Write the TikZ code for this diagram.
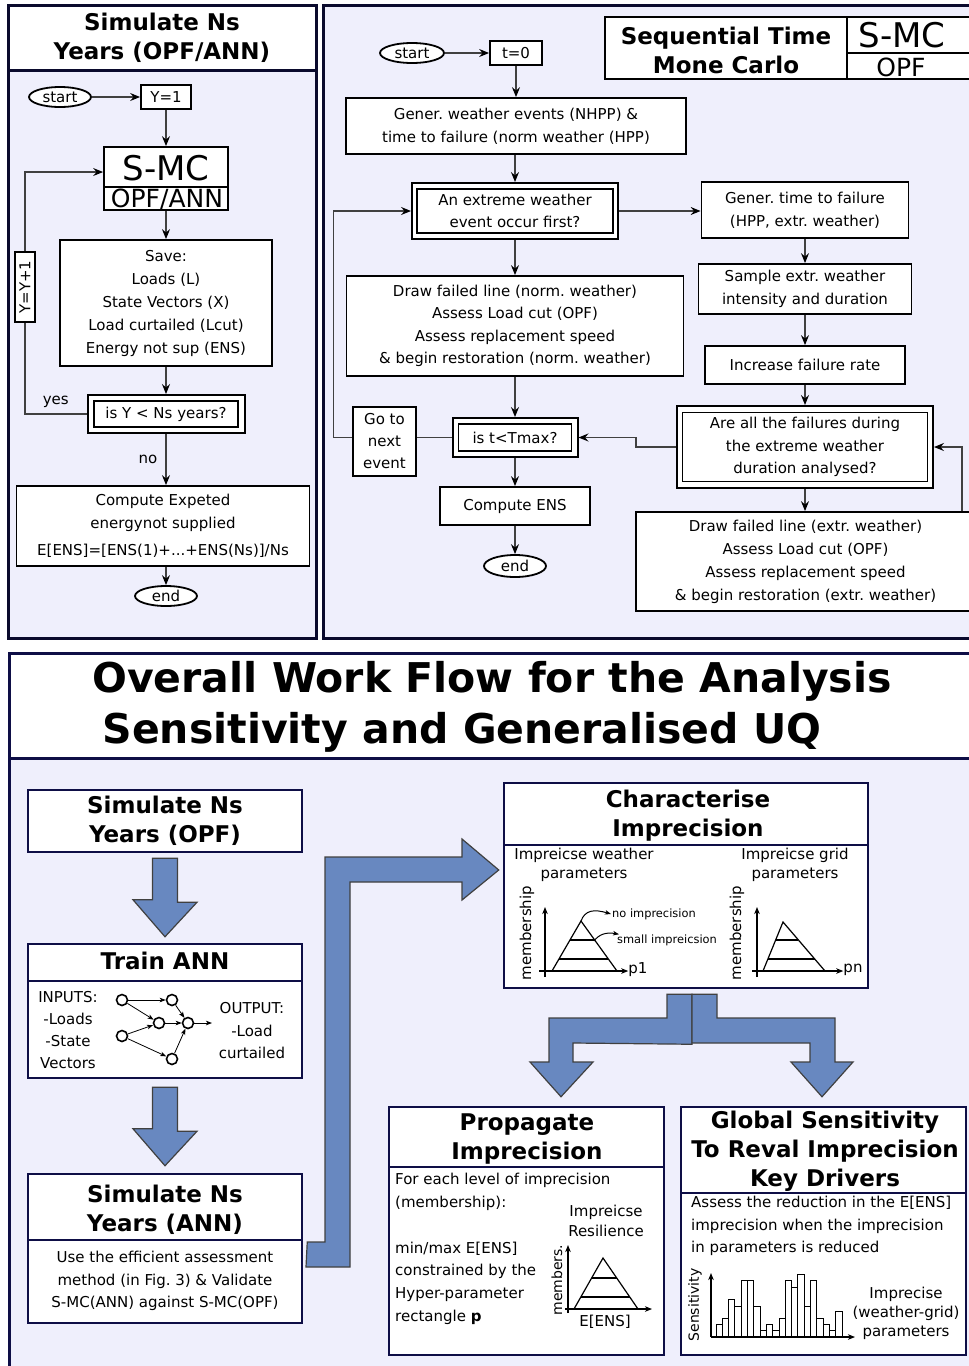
\documentclass[tikz,border=0pt]{standalone}
\usepackage{fontspec}
\setmainfont{DejaVu Sans}
\usetikzlibrary{arrows.meta,shapes.geometric,calc}
\frenchspacing

\definecolor{panelbg}{RGB}{239,239,252}
\definecolor{panelline}{RGB}{10,10,45}
\definecolor{navy}{RGB}{14,14,70}
\definecolor{flowblue}{RGB}{104,136,192}
\definecolor{wire}{RGB}{64,64,64}

\newcommand{\fsz}[2]{\fontsize{#1}{#2}\selectfont}

\tikzset{
  panel/.style={draw=panelline, line width=3pt},
  box/.style={draw=black, line width=1.8pt, fill=white, inner sep=0pt,
              align=center, font=\fsz{15}{23}},
  inbox/.style={draw=black, line width=1.8pt, inner sep=0pt, align=center,
              font=\fsz{15}{22.5}},
  oval/.style={ellipse, draw=black, line width=1.8pt, fill=white, inner sep=0pt,
              font=\fsz{15}{18}},
  wh/.style 2 args={minimum width=#1, minimum height=#2},
  arrowtip/.style={-{Stealth[length=10pt,width=8pt,inset=3.5pt,color=black]}},
  conn/.style={draw=wire, line width=1.2pt, arrowtip},
  wireline/.style={draw=wire, line width=1.2pt},
  txt/.style={inner sep=0pt, align=center, font=\fsz{15}{23}},
  ttl/.style={inner sep=0pt, align=center, font=\bfseries\fsz{23}{29}},
  nbox/.style={draw=navy, line width=2.5pt, fill=white, inner sep=0pt},
  fat/.style={fill=flowblue, draw=wire, line width=1.2pt, line join=miter},
  ax/.style={draw=black, line width=1.2pt, -{Stealth[length=7pt,width=5.5pt,inset=2pt]}},
  tri/.style={draw=black, line width=1.2pt, line join=miter},
  neuron/.style={circle, draw=black, line width=1.6pt, fill=white, minimum size=11pt, inner sep=0pt},
  syn/.style={draw=black, line width=0.8pt, -{Stealth[length=6pt,width=4.5pt,inset=1.5pt]}},
  smalltxt/.style={inner sep=1pt, font=\fsz{11.4}{13}},
  vlabel/.style={inner sep=0pt, rotate=90, font=\fsz{15}{15}},
}

\begin{document}
\begin{tikzpicture}[x=1pt,y=-1pt]
\useasboundingbox (0,0) rectangle (969,1366);
\clip (0,0) rectangle (969,1366);
\fill[white] (0,0) rectangle (969,1366);

% ================= left panel: simulation over Ns years
\fill[panelbg] (8,70) rectangle (316,638);
\fill[white] (8,5) rectangle (316,70);
\draw[panel] (8,5) rectangle (316,638) (8,70) -- (316,70);
\node[ttl] at (162,38) {Simulate Ns\\Years (OPF/ANN)};

\node[oval, wh={62}{20}] (lstart) at (60,97) {start};
\node[box, wh={50}{24}] (ly1) at (166,97) {Y=1};
\node[box, wh={124}{63}] (lsmc) at (166,178.5) {};
\draw[line width=1.8pt] ($(lsmc.west)+(0,8.5)$) -- ($(lsmc.east)+(0,8.5)$);
\node[inner sep=0pt, font=\fsz{34}{34}] at (166,168) {S-MC};
\node[inner sep=0pt, font=\fsz{25}{25}] at (167,199.5) {OPF/ANN};
\coordinate (lsmcw) at ($(lsmc.north west)!0.4!(lsmc.south west)$);

\node[box, wh={212}{126}] (lsave) at (166,303)
  {Save:\\Loads (L)\\State Vectors (X)\\Load curtailed (Lcut)\\Energy not sup (ENS)};
\node[box, line width=2pt, wh={157}{38}] (ldec) at (166,414) {};
\node[inbox, wh={144}{26}] at (ldec) {is Y < Ns years?};
\node[box, rotate=90, wh={70}{20}] (lyy) at (25,287) {Y=Y+1};
\node[box, wh={293}{80}] (lcomp) at (163,526)
  {Compute Expeted\\energynot supplied\\[4pt]E[ENS]=[ENS(1)+...+ENS(Ns)]/Ns};
\node[oval, wh={62}{20}] (lend) at (166,596) {end};

\draw[conn] (lstart) -- (ly1);
\draw[conn] (ly1) -- (ly1 |- lsmc.north);
\draw[conn] (lsmc) -- (lsave);
\draw[conn] (lsave) -- (ldec);
\draw[conn] (ldec.south) -- node[midway, left=8pt, inner sep=0pt, font=\fsz{15}{18}] {no} (ldec.south |- lcomp.north);
\draw[conn] (lcomp.south -| lend) -- (lend);
\draw[wireline] (ldec.west) -- node[midway, above=6pt, inner sep=0pt, font=\fsz{15}{18}] {yes} (ldec.west -| lyy) -- (lyy.west);
\draw[conn] (lyy.east) |- (lsmcw);

% ================= right panel: sequential time Monte Carlo
\fill[panelbg] (323,5) rectangle (990,638);
\draw[panel] (323,5) rectangle (990,638);
\node[box, line width=2.5pt, wh={375}{62}] (rhead) at (792.5,48) {};
\draw[line width=2.5pt] (847,17) -- (847,79) (847,53) -- (990,53);
\node[ttl] at (726,50) {Sequential Time\\Mone Carlo};
\node[inner sep=0pt, font=\fsz{34}{34}] at (902,35) {S-MC};
\node[inner sep=0pt, font=\fsz{25}{25}] at (901,67) {OPF};

\node[oval, wh={64}{20}] (rstart) at (412,53) {start};
\node[box, wh={52}{24}] (rt0) at (516,53) {t=0};
\node[box, wh={340}{56}] (rgen) at (516,126)
  {Gener. weather events (NHPP) \&\\time to failure (norm weather (HPP)};
\node[box, line width=2pt, wh={206}{56}] (rq1) at (515,211) {};
\node[inbox, wh={196}{44}] at (rq1) {An extreme weather\\event occur first?};
\node[box, wh={207}{56}] (rgtf) at (805,210) {Gener. time to failure\\(HPP, extr. weather)};
\node[box, wh={337}{100}, font=\fsz{15}{22.5}] (rdn) at (515,326)
  {Draw failed line (norm. weather)\\Assess Load cut (OPF)\\Assess replacement speed\\\& begin restoration (norm. weather)};
\node[box, wh={213}{50}] (rsample) at (805,289) {Sample extr. weather\\intensity and duration};
\node[box, wh={200}{38}] (rinc) at (805,365) {Increase failure rate};
\node[box, line width=2pt, wh={256}{82}] (rq2) at (805,447) {};
\node[inbox, wh={245}{69}] at (rq2) {Are all the failures during\\the extreme weather\\duration analysed?};
\node[box, line width=2pt, wh={125}{39}] (rtmax) at (515,437.5) {};
\node[inbox, wh={113}{27}] at (rtmax) {is t<Tmax?};
\node[box, wh={63}{69}, font=\fsz{15}{22}] (rgo) at (384.5,441.5) {Go to\\next\\event};
\node[box, wh={150}{38}] (rens) at (515,506) {Compute ENS};
\node[oval, wh={62}{22}] (rend) at (515,566) {end};
\node[box, wh={339}{99}] (rde) at (805.5,561.5)
  {Draw failed line (extr. weather)\\Assess Load cut (OPF)\\Assess replacement speed\\\& begin restoration (extr. weather)};

\draw[conn] (rstart) -- (rt0);
\draw[conn] (rt0) -- (rt0 |- rgen.north);
\draw[conn] (rgen.south -| rq1) -- (rq1);
\draw[conn] (rq1) -- (rgtf.west |- rq1);
\draw[conn] (rq1) -- (rq1 |- rdn.north);
\draw[conn] (rdn.south -| rtmax) -- (rtmax);
\draw[conn] (rtmax) -- (rens);
\draw[conn] (rens) -- (rend);
\draw[conn] (rgtf) -- (rsample);
\draw[conn] (rsample) -- (rinc);
\draw[conn] (rinc) -- (rq2);
\draw[conn] (rq2) -- (rq2 |- rde.north);
\draw[conn] (rq2.west) -- ++(-40,0) |- (rtmax.east);
\draw[wireline] (rtmax.west) -- (rgo.east |- rtmax.west);
\draw[conn] (rgo.west |- rtmax.west) -- ++(-18.5,0) |- (rq1.west);
\coordinate (rloop) at ($(rde.north east)+(-14,0)$);
\draw[conn] (rloop) |- (rq2.east);

% ================= bottom panel: overall work flow
\fill[panelbg] (9,758) rectangle (990,1380);
\fill[white] (9,653) rectangle (990,758);
\draw[panel, draw=navy] (9,653) rectangle (990,1380) (9,758) -- (990,758);
\node[inner sep=0pt, font=\bfseries\fsz{41}{41}] at (492,681) {Overall Work Flow for the Analysis};
\node[inner sep=0pt, font=\bfseries\fsz{41}{41}] at (462,732) {Sensitivity and Generalised UQ};

% --- simulate with OPF
\node[nbox, ttl, wh={274}{62}] (bopf) at (165,821) {Simulate Ns\\Years (OPF)};

% --- train the network
\node[nbox, wh={274}{134}] (bann) at (165,1011) {};
\draw[navy, line width=2.5pt] (28,981) -- (302,981);
\node[ttl] at (165,961) {Train ANN};
\node[txt, font=\fsz{15}{22.3}] at (68,1030) {INPUTS:\\-Loads\\-State\\Vectors};
\node[txt, font=\fsz{15}{22.5}] at (252,1031) {OUTPUT:\\-Load\\curtailed};
\node[neuron] (n1) at (122,1000) {};
\node[neuron] (n2) at (172,1000) {};
\node[neuron] (n3) at (122,1036) {};
\node[neuron] (n4) at (159,1023) {};
\node[neuron] (n5) at (188,1023) {};
\node[neuron] (n6) at (172,1059) {};
\coordinate (nout) at (212,1023);
\draw[syn] (n1) -- (n2);
\draw[syn] (n1) -- (n4);
\draw[syn] (n3) -- (n4);
\draw[syn] (n3) -- (n6);
\draw[syn] (n4) -- (n5);
\draw[syn] (n2) -- (n5);
\draw[syn] (n6) -- (n5);
\draw[syn] (n5) -- (nout);

% --- simulate with the trained network
\node[nbox, wh={274}{149}] (bsim) at (165,1248.5) {};
\draw[navy, line width=2pt] (28,1240) -- (302,1240);
\node[ttl] at (165,1210) {Simulate Ns\\Years (ANN)};
\node[txt, font=\fsz{15}{22.5}] at (165,1281)
  {Use the efficient assessment\\method (in Fig. 3) \& Validate\\S-MC(ANN) against S-MC(OPF)};

% --- characterise imprecision
\node[nbox, wh={364}{205}] (bchar) at (686,885.5) {};
\draw[navy, line width=2.5pt] (504,845) -- (868,845);
\node[ttl] at (688,816) {Characterise\\Imprecision};
\node[txt, font=\fsz{15}{19.5}] at (584,865) {Impreicse weather\\parameters};
\node[txt, font=\fsz{15}{19.5}] at (795,865) {Impreicse grid\\parameters};

\node[inner sep=0pt, font=\fsz{15}{15}] (p1) at (638,970) {p1};
\draw[ax] (545,977) -- (545,907);
\draw[ax] (539,971) -- (p1.west |- 0,971);
\draw[tri] (552,971) -- (581,921) -- (617,971);
\draw[tri] (570,940) -- (594.7,940) (559,959) -- (608.4,959);
\node[vlabel] at (527,933) {membership};
\node[smalltxt, anchor=west] (noimp) at (611,914) {no imprecision};
\node[smalltxt, anchor=west] (smimp) at (616,940) {small impreicsion};
\draw[syn, line width=1pt] (581,921) .. controls (585,910) and (594,909) .. (noimp.west);
\draw[syn, line width=1pt] (594,941) .. controls (599,934) and (607,932) .. ($(smimp.north west)+(3,1)$);

\node[inner sep=0pt, font=\fsz{15}{15}] (pn) at (853,970) {pn};
\draw[ax] (757,977) -- (757,907);
\draw[ax] (752,971) -- (pn.west |- 0,971);
\draw[tri] (763,971) -- (783,922) -- (825,971);
\draw[tri] (775.7,940) -- (798.4,940) (767.9,959) -- (814.7,959);
\node[vlabel] at (737,933) {membership};

% --- propagate imprecision
\node[nbox, wh={275}{248}] (bprop) at (526.5,1231) {};
\draw[navy, line width=2.5pt] (389,1167) -- (664,1167);
\node[ttl] at (527,1139) {Propagate\\Imprecision};
\node[txt, align=left, anchor=west, font=\fsz{15}{22.5}] at (395,1192)
  {For each level of imprecision\\(membership):};
\node[txt, align=left, anchor=west, font=\fsz{15}{22.7}] at (395,1283)
  {min/max E[ENS]\\constrained by the\\Hyper-parameter\\rectangle \textbf{p}};
\node[txt, font=\fsz{15}{20}] at (606,1221) {Impreicse\\Resilience};
\node[inner sep=0pt, font=\fsz{15}{15}] (eens) at (605,1322) {E[ENS]};
\draw[ax] (568,1313) -- (568,1245);
\draw[ax] (565,1309) -- (652,1309);
\draw[tri] (574,1309) -- (603,1258) -- (638,1309);
\draw[tri] (591.6,1278) -- (616.7,1278) (580.8,1297) -- (629.8,1297);
\node[vlabel, font=\fsz{14}{14}] at (557,1280) {members.};

% --- global sensitivity
\node[nbox, wh={285}{248}] (bglob) at (823.5,1231) {};
\draw[navy, line width=2.5pt] (681,1193) -- (966,1193);
\node[ttl] at (825,1151) {Global Sensitivity\\To Reval Imprecision\\Key Drivers};
\node[txt, align=left, anchor=west, font=\fsz{15}{22.5}] at (691,1226)
  {Assess the reduction in the E[ENS]\\imprecision when the imprecision\\in parameters is reduced};
\foreach \h [count=\i from 0] in {1324,1318.3,1299.3,1306,1280.7,1280.7,1306,1330,1324,1330,1318.3,1280.7,1287.3,1274,1306,1280.7,1318.3,1324,1330,1311.7}
  \draw[line width=1pt, fill=white] ({716+\i*6.3},1337) rectangle ({722.3+\i*6.3},\h);
\draw[ax] (711,1337) -- (711,1273);
\draw[ax] (711,1337) -- (855,1337);
\node[vlabel, font=\fsz{14}{14}] at (695,1305) {Sensitivity};
\node[txt, font=\fsz{15}{19}] at (906,1313) {Imprecise\\(weather-grid)\\parameters};

% --- block arrows of the work flow
\draw[fat] ($(bopf.south)+(-12.5,5)$) -- ++(25,0) -- ++(0,44) -- ++(19.5,0)
  -- ($(bann.north)+(0,-6)$) -- ++(-32,-37) -- ++(19.5,0) -- cycle;
\draw[fat] ($(bann.south)+(-12.5,8)$) -- ++(25,0) -- ++(0,44) -- ++(19.5,0)
  -- ($(bsim.north)+(0,-7)$) -- ++(-32,-37) -- ++(19.5,0) -- cycle;
\draw[fat] ($(bsim.east)+(4,-6.5)$) -- (325,1242) -- (325,857) -- (462,857) -- (462,839)
  -- ($(bchar.west)+(-4,-15.5)$) -- (462,900) -- (462,882) -- (350,882) -- (350,1267)
  -- (306,1267) -- cycle;
\draw[fat] ($(bchar.south)+(-19,5)$) -- ++(25,0) -- ++(0,50) -- (573,1043) -- (573,1062)
  -- (593,1062) -- ($(bprop.north)+(34.5,-9)$) -- (530,1062) -- (549,1062) -- (549,1018)
  -- (667,1018) -- cycle;
\draw[fat] ($(bchar.south)+(6,5)$) -- ++(25,0) -- (717,1018) -- (835,1018) -- (835,1062)
  -- (853,1062) -- ($(bglob.north)+(-1.5,-9)$) -- (791,1062) -- (810,1062) -- (810,1043)
  -- (692,1043) -- cycle;
\end{tikzpicture}
\end{document}
